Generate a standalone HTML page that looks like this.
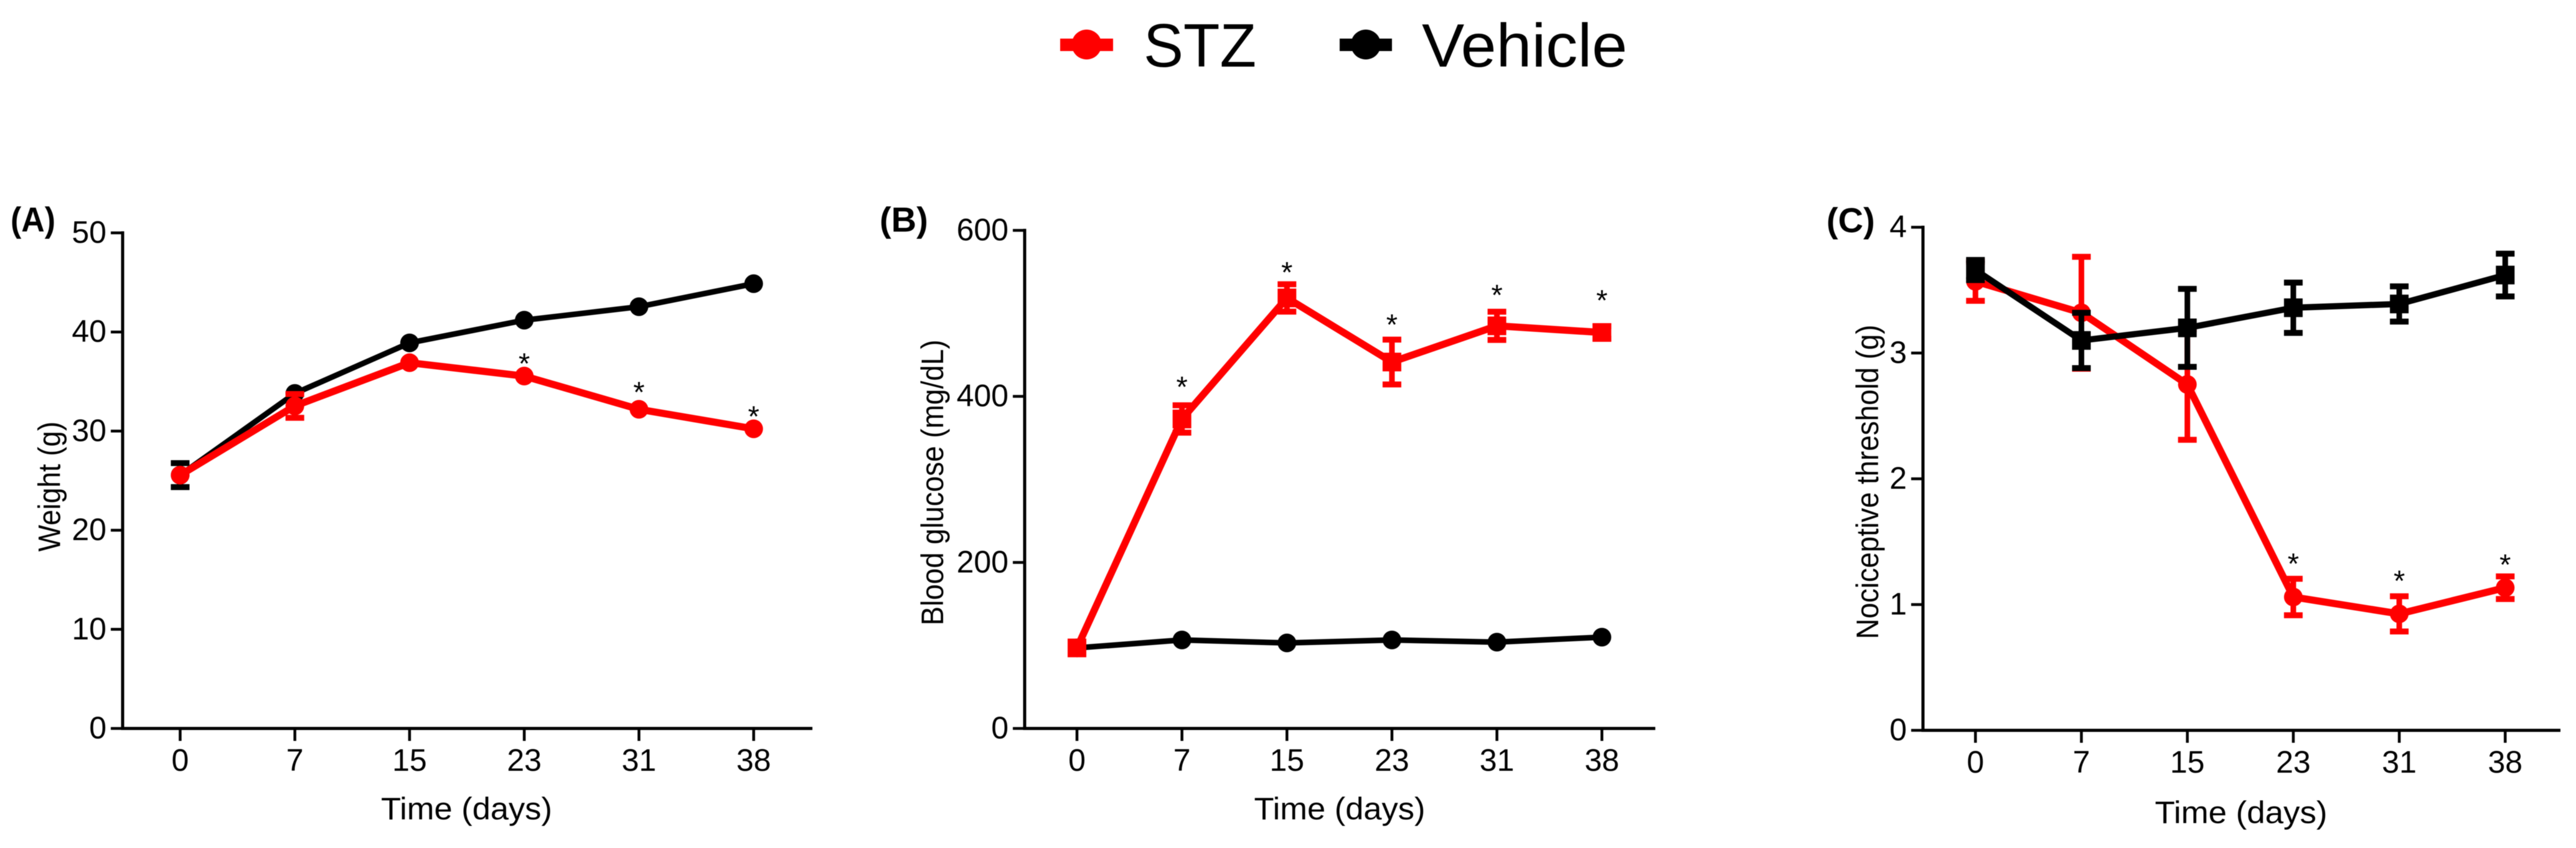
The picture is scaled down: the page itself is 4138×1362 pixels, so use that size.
<!DOCTYPE html>
<html lang="en">
<head>
<meta charset="utf-8">
<title>STZ vs Vehicle time course</title>
<style>
html,body{margin:0;padding:0;background:#fff;width:4138px;height:1362px;overflow:hidden}
svg{display:block;position:absolute;left:0;top:0;filter:blur(0.6px)}
text{font-family:"Liberation Sans",Arial,sans-serif;fill:#000}
.lbl{font-weight:700;font-size:56px}
.title{font-size:50px}
.legend-text{font-size:98px}
</style>
</head>
<body>
<svg id="fig" xmlns="http://www.w3.org/2000/svg" width="4138" height="1362" viewBox="0 0 4138 1362">
  <rect width="4138" height="1362" fill="#fff"/>
  <g>
    <g>
      <rect x="1703" y="62" width="85" height="20" fill="#ff0000"/>
      <circle cx="1745.5" cy="71.5" r="24" fill="#ff0000"/>
      <text x="1837" y="107" class="legend-text" textLength="181" lengthAdjust="spacingAndGlyphs">STZ</text>
    </g>
    <g>
      <rect x="2152" y="62" width="84" height="20" fill="#000"/>
      <circle cx="2194" cy="71.5" r="24" fill="#000"/>
      <text x="2284" y="107" class="legend-text" textLength="330" lengthAdjust="spacingAndGlyphs">Vehicle</text>
    </g>
  </g>
  <text x="17" y="372" class="lbl" textLength="72" lengthAdjust="spacingAndGlyphs">(A)</text>
  <text x="1413" y="372" class="lbl">(B)</text>
  <text x="2934" y="373" class="lbl">(C)</text>

  <text transform="translate(96.7,781.5) rotate(-90)" text-anchor="middle" class="title" textLength="209" lengthAdjust="spacingAndGlyphs">Weight (g)</text>
  <text transform="translate(1515,775) rotate(-90)" text-anchor="middle" class="title" textLength="459" lengthAdjust="spacingAndGlyphs">Blood glucose (mg/dL)</text>
  <text transform="translate(3017,774) rotate(-90)" text-anchor="middle" class="title" textLength="505" lengthAdjust="spacingAndGlyphs">Nociceptive threshold (g)</text>

  <text x="749.5" y="1316" text-anchor="middle" class="title" textLength="275" lengthAdjust="spacingAndGlyphs">Time (days)</text>
  <text x="2152" y="1316" text-anchor="middle" class="title" textLength="275" lengthAdjust="spacingAndGlyphs">Time (days)</text>
  <text x="3600" y="1322" text-anchor="middle" class="title" textLength="277" lengthAdjust="spacingAndGlyphs">Time (days)</text>
</svg>
<script>
const days = ['0', '7', '15', '23', '31', '38'];

const weightTicks = [0, 10, 20, 30, 40, 50];
const weightStz = [25.56, 32.54, 36.9, 35.55, 32.2, 30.23];
const weightStzErr = [0, 1.2, 0, 0, 0, 0];
const weightVehicle = [25.56, 33.8, 38.9, 41.19, 42.55, 44.87];
const weightVehicleErr = [1.21, 0, 0, 0, 0, 0];
const weightStars = [null, null, null, 37.44, 34.55, 32.1];

const glucoseTicks = [0, 200, 400, 600];
const glucoseStz = [97, 372.8, 518.6, 441.4, 485, 477];
const glucoseStzErr = [0, 16.5, 16.5, 27, 17, 7.5];
const glucoseVehicle = [97, 106.6, 103, 106.6, 104, 110];
const glucoseVehicleErr = [0, 0, 0, 0, 0, 0];
const glucoseStars = [null, 419, 557, 494, 529.5, 523];

const thresholdTicks = [0, 1, 2, 3, 4];
const thresholdStz = [3.57, 3.32, 2.75, 1.06, 0.926, 1.134];
const thresholdStzErr = [0.155, 0.445, 0.44, 0.145, 0.14, 0.09];
const thresholdVehicle = [3.66, 3.10, 3.20, 3.36, 3.39, 3.62];
const thresholdVehicleErr = [0.08, 0.22, 0.31, 0.2, 0.14, 0.17];
const thresholdStars = [null, null, null, 1.373, 1.238, 1.366];

const RED = '#ff0000';
const BLACK = '#000000';
const svgNS = 'http://www.w3.org/2000/svg';
const fig = document.getElementById('fig');

function mk(parent, tag, attrs) {
  const el = document.createElementNS(svgNS, tag);
  for (const k in attrs) el.setAttribute(k, attrs[k]);
  parent.appendChild(el);
  return el;
}

function drawSeries(parent, name, values, errs, color, shape, lineWidth, sx, sy) {
  const g = mk(parent, 'g', {});
  
  

  values.forEach(function (v, i) {
    if (!errs[i]) return;
    const x = sx(i);
    const hi = sy(v + errs[i]);
    const lo = sy(v - errs[i]);
    const stem = mk(g, 'rect', { x: x - 4.5, y: hi, width: 9, height: lo - hi, fill: color });
    
    
    const top = mk(g, 'rect', { x: x - 15, y: hi - 4.75, width: 30, height: 9.5, fill: color });
    
    
    const bot = mk(g, 'rect', { x: x - 15, y: lo - 4.75, width: 30, height: 9.5, fill: color });
    
    
  });

  const pts = values.map(function (v, i) { return sx(i) + ',' + sy(v); }).join(' ');
  const line = mk(g, 'polyline', { points: pts, fill: 'none', stroke: color, 'stroke-width': lineWidth, 'stroke-linejoin': 'round' });
  
  

  values.forEach(function (v, i) {
    let m;
    if (shape === 'circle') {
      m = mk(g, 'circle', { cx: sx(i), cy: sy(v), r: 15, fill: color });
    } else {
      m = mk(g, 'rect', { x: sx(i) - 15, y: sy(v) - 15, width: 30, height: 30, fill: color });
    }
    
    
  });
}

function drawPanel(cfg) {
  const sx = function (i) { return cfg.x0 + cfg.xStep * i; };
  const sy = function (v) { return cfg.yBase - (v / cfg.yMax) * (cfg.yBase - cfg.yTop); };
  const g = mk(fig, 'g', {});
  
  

  const yAxis = mk(g, 'line', { x1: cfg.axisX, x2: cfg.axisX, y1: cfg.yTop - 2.5, y2: cfg.yBase + 2.5, stroke: BLACK, 'stroke-width': 5 });
  
  
  const xAxis = mk(g, 'line', { x1: cfg.axisX, x2: cfg.axisEnd, y1: cfg.yBase, y2: cfg.yBase, stroke: BLACK, 'stroke-width': 5 });
  
  

  cfg.yTicks.forEach(function (t) {
    const tick = mk(g, 'line', { x1: cfg.axisX - 19, x2: cfg.axisX, y1: sy(t), y2: sy(t), stroke: BLACK, 'stroke-width': 4.5 });
    
    
    const lab = mk(g, 'text', { x: cfg.axisX - 26, y: sy(t) + 16, 'text-anchor': 'end', 'font-size': 50 });
    lab.textContent = t;
    
    
  });

  days.forEach(function (d, i) {
    const tick = mk(g, 'line', { x1: sx(i), x2: sx(i), y1: cfg.yBase, y2: cfg.yBase + 20, stroke: BLACK, 'stroke-width': 4.5 });
    
    
    const lab = mk(g, 'text', { x: sx(i), y: cfg.yBase + 68, 'text-anchor': 'middle', 'font-size': 50 });
    lab.textContent = d;
    
    
  });

  cfg.series.forEach(function (s) {
    drawSeries(g, s.name, s.values, s.errs, s.color, s.shape, s.width, sx, sy);
  });

  cfg.stars.forEach(function (v, i) {
    if (v === null) return;
    const star = mk(g, 'text', { x: sx(i), y: sy(v) + 26, 'text-anchor': 'middle', 'font-size': 47 });
    star.textContent = '*';
    
    
  });
}

drawPanel({
  name: 'panel-a-weight', x0: 289.4, xStep: 184.25, axisX: 197, axisEnd: 1305,
  yBase: 1170, yTop: 374, yMax: 50, yTicks: weightTicks, stars: weightStars,
  series: [
    { name: 'vehicle', values: weightVehicle, errs: weightVehicleErr, color: BLACK, shape: 'circle', width: 9 },
    { name: 'stz', values: weightStz, errs: weightStzErr, color: RED, shape: 'circle', width: 11.5 }
  ]
});

drawPanel({
  name: 'panel-b-glucose', x0: 1730, xStep: 168.65, axisX: 1646, axisEnd: 2659,
  yBase: 1170, yTop: 370, yMax: 600, yTicks: glucoseTicks, stars: glucoseStars,
  series: [
    { name: 'vehicle', values: glucoseVehicle, errs: glucoseVehicleErr, color: BLACK, shape: 'circle', width: 9 },
    { name: 'stz', values: glucoseStz, errs: glucoseStzErr, color: RED, shape: 'square', width: 11.5 }
  ]
});

drawPanel({
  name: 'panel-c-threshold', x0: 3173.3, xStep: 170.2, axisX: 3089, axisEnd: 4113,
  yBase: 1173, yTop: 365, yMax: 4, yTicks: thresholdTicks, stars: thresholdStars,
  series: [
    { name: 'stz', values: thresholdStz, errs: thresholdStzErr, color: RED, shape: 'circle', width: 11.5 },
    { name: 'vehicle', values: thresholdVehicle, errs: thresholdVehicleErr, color: BLACK, shape: 'square', width: 10 }
  ]
});
</script>
</body>
</html>
